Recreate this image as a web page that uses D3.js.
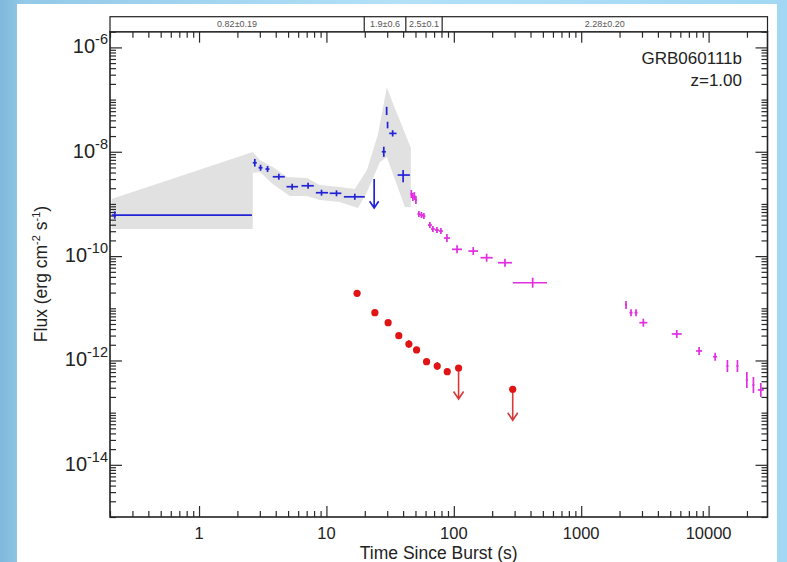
<!DOCTYPE html>
<html><head><meta charset="utf-8">
<script src="https://cdn.jsdelivr.net/npm/d3@7"></script>
<style>body{margin:0;background:#a6d9f2}svg{display:block}</style>
</head><body>
<svg id="c" width="787" height="562"></svg>
<script>
// ---------- data ----------
const xDomain = [0.2, 29000];
const yDomain = [1e-15, 2e-6];
const xMajor = [1, 10, 100, 1000, 10000];
const yMajor = [1e-6, 1e-8, 1e-10, 1e-12, 1e-14];
const yMajorExp = ["-6", "-8", "-10", "-12", "-14"];

// BAT (blue)
const batT   = [0.218, 2.74, 3.04, 3.45, 4.23, 5.38, 7.18, 9.15, 12.0, 16.7, 28.2, 29.7, 30.2, 33.1, 40.0];
const batTLo = [0.206, 2.64, 2.93, 3.32, 3.79, 4.86, 6.37, 8.26, 10.6, 13.7, 27.2, 29.7, 30.2, 31.1, 36.2];
const batTHi = [2.6, 2.84, 3.15, 3.57, 4.71, 5.99, 7.96, 10.3, 13.1, 20.0, 29.3, 29.7, 30.2, 35.5, 45.2];
const batF   = [6.1e-10, 6.15e-9, 4.94e-9, 4.66e-9, 3.32e-9, 2.14e-9, 2.23e-9, 1.64e-9, 1.60e-9, 1.37e-9, 1.0e-8, 6.07e-8, 3.25e-8, 2.25e-8, 3.58e-9];
const batFLo = [5.2e-10, 5.2e-9, 4.33e-9, 4.08e-9, 2.91e-9, 1.87e-9, 1.96e-9, 1.44e-9, 1.40e-9, 1.20e-9, 8.0e-9, 5.05e-8, 2.81e-8, 1.96e-8, 2.59e-9];
const batFHi = [7.2e-10, 7.3e-9, 5.64e-9, 5.32e-9, 3.79e-9, 2.44e-9, 2.55e-9, 1.87e-9, 1.82e-9, 1.57e-9, 1.25e-8, 7.28e-8, 3.76e-8, 2.59e-8, 4.46e-9];
const batUlT = [23.7];
const batUlF = [3.0e-9];

// BAT error band (grey)
const bandLeftT = [0.206, 2.64, 2.64, 0.206];
const bandLeftF = [1.24e-9, 9.87e-9, 3.30e-10, 3.30e-10];
const bandT = [2.64, 3.0, 3.79, 4.89, 7.02, 8.88, 12.7, 16.7, 20.8, 25.3, 29.8, 33.2, 46.0,
               46.0, 41.3, 29.8, 26.3, 20.8, 17.7, 12.7, 8.88, 7.02, 5.16, 3.79, 3.0, 2.64];
const bandF = [9.87e-9, 6.93e-9, 5.09e-9, 3.27e-9, 3.13e-9, 2.30e-9, 2.11e-9, 1.93e-9, 4.46e-9, 2.09e-8, 1.73e-7, 8.57e-8, 1.18e-8,
               8.72e-10, 8.72e-10, 7.91e-9, 6.35e-9, 1.69e-9, 8.34e-10, 1.09e-9, 1.19e-9, 1.42e-9, 1.42e-9, 2.41e-9, 4.08e-9, 3.91e-9];

// XRT (magenta)
const xrtT   = [46.4, 47.7, 49.0, 50.4, 53.2, 55.7, 58.2, 64.9, 68.5, 73.7, 79.2, 88.3, 106, 142, 181, 252, 416, 2248, 2461, 2695, 3074, 5626, 8424, 11250, 14050, 16840, 19960, 22480, 25700];
const xrtTLo = [45.6, 46.8, 48.1, 49.5, 51.8, 54.2, 56.6, 62.6, 66.1, 71.1, 76.4, 83.6, 96.8, 130, 162, 222, 291, 2208, 2394, 2622, 2860, 5138, 7977, 10850, 13800, 16540, 19600, 22080, 24340];
const xrtTHi = [47.2, 48.6, 49.9, 51.3, 54.7, 57.3, 59.8, 67.3, 71.0, 76.4, 82.1, 93.2, 116, 155, 202, 286, 539, 2289, 2530, 2770, 3304, 6160, 8896, 11670, 14310, 17150, 20330, 22890, 27140];
const xrtF   = [1.55e-9, 1.36e-9, 1.42e-9, 1.19e-9, 6.40e-10, 6.13e-10, 5.86e-10, 3.94e-10, 3.31e-10, 3.16e-10, 3.03e-10, 2.22e-10, 1.35e-10, 1.25e-10, 9.32e-11, 7.47e-11, 3.09e-11, 1.16e-11, 8.24e-12, 8.24e-12, 5.30e-12, 3.22e-12, 1.52e-12, 1.18e-12, 7.84e-13, 7.84e-13, 4.23e-13, 3.39e-13, 2.72e-13];
const xrtFLo = [1.30e-9, 1.14e-9, 1.19e-9, 1.00e-9, 5.60e-10, 5.37e-10, 5.13e-10, 3.45e-10, 2.90e-10, 2.77e-10, 2.65e-10, 1.86e-10, 1.13e-10, 1.05e-10, 7.81e-11, 6.26e-11, 2.48e-11, 0.97e-11, 7.06e-12, 7.06e-12, 4.44e-12, 2.70e-12, 1.27e-12, 0.99e-12, 6.01e-13, 6.01e-13, 2.97e-13, 2.38e-13, 2.0e-13];
const xrtFHi = [1.85e-9, 1.62e-9, 1.69e-9, 1.42e-9, 7.31e-10, 7.00e-10, 6.69e-10, 4.50e-10, 3.78e-10, 3.61e-10, 3.46e-10, 2.65e-10, 1.61e-10, 1.49e-10, 1.11e-10, 8.91e-11, 3.85e-11, 1.38e-11, 9.62e-12, 9.62e-12, 6.32e-12, 3.84e-12, 1.81e-12, 1.41e-12, 10.2e-13, 10.2e-13, 6.02e-13, 4.82e-13, 3.70e-13];

// Optical (red)
const optT   = [17.4, 24.0, 30.5, 37.0, 44.4, 51.0, 61.1, 74.1, 88.8];
const optF   = [1.94e-11, 8.24e-12, 5.30e-12, 2.99e-12, 2.07e-12, 1.59e-12, 9.48e-13, 7.84e-13, 6.10e-13];
const optFLo = [1.86e-11, 7.88e-12, 5.07e-12, 2.86e-12, 1.74e-12, 1.39e-12, 8.3e-13, 6.57e-13, 5.34e-13];
const optFHi = [2.03e-11, 8.61e-12, 5.54e-12, 3.12e-12, 2.47e-12, 1.81e-12, 1.08e-12, 9.35e-13, 6.97e-13];
const optUlT = [109, 290];
const optUlF = [7.18e-13, 2.81e-13];

// Photon index segments (top strip)
const segBounds = [19.8, 42, 81];
const segLabels = ["0.82\u00b10.19", "1.9\u00b10.6", "2.5\u00b10.1", "2.28\u00b10.20"];

const grbName = "GRB060111b";
const redshift = "z=1.00";

// ---------- drawing ----------
const FONT = "'Liberation Sans', Arial, Helvetica, sans-serif";
const svg = d3.select("#c");
const m = {left: 110, right: 767.5, top: 31.7, bottom: 517};

const defs = svg.append("defs");
const lg = defs.append("linearGradient").attr("id", "bg").attr("x1", 0).attr("x2", 1).attr("y1", 0).attr("y2", 0);
lg.append("stop").attr("offset", "0").attr("stop-color", "#7fb8dc");
lg.append("stop").attr("offset", "0.03").attr("stop-color", "#93c9e8");
lg.append("stop").attr("offset", "0.5").attr("stop-color", "#b2e1f7");
lg.append("stop").attr("offset", "1").attr("stop-color", "#a2d8f3");
svg.append("rect").attr("width", 787).attr("height", 562).attr("fill", "url(#bg)");
svg.append("rect").attr("x", 17).attr("y", 4).attr("width", 760).attr("height", 558).attr("fill", "#fff");

const x = d3.scaleLog().domain(xDomain).range([m.left, m.right]);
const y = d3.scaleLog().domain(yDomain).range([m.bottom, m.top]);

// grey band
const bandLine = d3.line().x(d => x(d[0])).y(d => y(d[1]));
svg.append("path").attr("d", bandLine(d3.zip(bandLeftT, bandLeftF)) + "Z").attr("fill", "#e1e1e1");
svg.append("path").attr("d", bandLine(d3.zip(bandT, bandF)) + "Z").attr("fill", "#e1e1e1");

// minor tick values
function minorTicks(lo, hi, skip) {
  const out = [];
  for (let e = Math.floor(Math.log10(lo)); e <= Math.ceil(Math.log10(hi)); e++) {
    for (let k = 1; k <= 9; k++) {
      const v = k * Math.pow(10, e);
      if (v >= lo * 0.9999 && v <= hi * 1.0001 && !skip.some(s => Math.abs(s - v) / v < 1e-6)) out.push(v);
    }
  }
  return out;
}
const xMinor = minorTicks(xDomain[0], xDomain[1], xMajor);
const yMinor = minorTicks(yDomain[0], yDomain[1], yMajor);

function styleAxis(g) {
  g.select(".domain").remove();
  g.selectAll(".tick line").attr("stroke", "#2a2a2a").attr("stroke-width", 1.2);
  g.selectAll(".tick text").remove();
}
const MAJ = 11, MIN = 6;
[[d3.axisBottom, m.bottom, "x"], [d3.axisTop, m.top, "x"]].forEach(([ax, pos]) => {
  svg.append("g").attr("transform", `translate(0,${pos})`).call(ax(x).tickValues(xMajor).tickSize(-MAJ)).call(styleAxis);
  svg.append("g").attr("transform", `translate(0,${pos})`).call(ax(x).tickValues(xMinor).tickSize(-MIN)).call(styleAxis);
});
[[d3.axisLeft, m.left], [d3.axisRight, m.right]].forEach(([ax, pos]) => {
  svg.append("g").attr("transform", `translate(${pos},0)`).call(ax(y).tickValues(yMajor).tickSize(-MAJ - 1)).call(styleAxis);
  svg.append("g").attr("transform", `translate(${pos},0)`).call(ax(y).tickValues(yMinor).tickSize(-MIN)).call(styleAxis);
});

// frame
svg.append("rect").attr("x", m.left).attr("y", m.top).attr("width", m.right - m.left).attr("height", m.bottom - m.top)
  .attr("fill", "none").attr("stroke", "#222").attr("stroke-width", 1.6);

// top strip with spectral indices
const stripTop = 16.7;
svg.append("rect").attr("x", m.left).attr("y", stripTop).attr("width", m.right - m.left).attr("height", m.top - stripTop)
  .attr("fill", "#fff").attr("stroke", "#222").attr("stroke-width", 1.2);
svg.selectAll(".segdiv").data(segBounds).enter().append("line")
  .attr("x1", d => x(d)).attr("x2", d => x(d)).attr("y1", stripTop).attr("y2", m.top)
  .attr("stroke", "#222").attr("stroke-width", 1.2);
const segEdges = [xDomain[0], ...segBounds, xDomain[1]];
svg.selectAll(".seglab").data(segLabels).enter().append("text")
  .attr("x", (d, i) => (x(segEdges[i]) + x(segEdges[i + 1])) / 2).attr("y", 27)
  .attr("text-anchor", "middle").attr("font-family", FONT).attr("font-size", 9).attr("fill", "#555").text(d => d);

// x tick labels
svg.selectAll(".xl").data(xMajor).enter().append("text")
  .attr("x", d => x(d)).attr("y", 539).attr("text-anchor", "middle")
  .attr("font-family", FONT).attr("font-size", 16.5).attr("fill", "#222").text(d => d3.format("d")(d));

// y tick labels with superscripts
yMajor.forEach((v, i) => {
  const t = svg.append("text").attr("x", 108).attr("y", y(v) + 6).attr("text-anchor", "end")
    .attr("font-family", FONT).attr("font-size", 20).attr("fill", "#222");
  t.append("tspan").text("10");
  t.append("tspan").attr("dy", -9).attr("font-size", 14.5).text(yMajorExp[i]);
});

// axis titles
svg.append("text").attr("x", (m.left + m.right) / 2).attr("y", 559).attr("text-anchor", "middle")
  .attr("font-family", FONT).attr("font-size", 17.5).attr("fill", "#222").text("Time Since Burst (s)");
const yt = svg.append("text").attr("transform", "translate(47,274) rotate(-90)").attr("text-anchor", "middle")
  .attr("font-family", FONT).attr("font-size", 17.5).attr("fill", "#222");
yt.append("tspan").text("Flux (erg cm");
yt.append("tspan").attr("dy", -7).attr("font-size", 11).text("-2");
yt.append("tspan").attr("dy", 7).text(" s");
yt.append("tspan").attr("dy", -7).attr("font-size", 11).text("-1");
yt.append("tspan").attr("dy", 7).text(")");

// annotations
svg.append("text").attr("x", 742).attr("y", 64).attr("text-anchor", "end")
  .attr("font-family", FONT).attr("font-size", 17).attr("fill", "#222").text(grbName);
svg.append("text").attr("x", 742).attr("y", 86).attr("text-anchor", "end")
  .attr("font-family", FONT).attr("font-size", 17).attr("fill", "#222").text(redshift);

// error bar helper
function errorBars(cls, T, TLo, THi, F, FLo, FHi, color, sw) {
  const data = T.map((t, i) => ({t, tlo: TLo ? TLo[i] : t, thi: THi ? THi[i] : t, f: F[i], flo: FLo[i], fhi: FHi[i]}));
  const g = svg.append("g").attr("stroke", color).attr("stroke-width", sw);
  g.selectAll("line.h" + cls).data(data).enter().append("line")
    .attr("x1", d => x(d.tlo)).attr("x2", d => x(d.thi)).attr("y1", d => y(d.f)).attr("y2", d => y(d.f));
  g.selectAll("line.v" + cls).data(data).enter().append("line")
    .attr("x1", d => x(d.t)).attr("x2", d => x(d.t)).attr("y1", d => y(d.flo)).attr("y2", d => y(d.fhi));
}
function upperLimits(T, F, color, len, head, sw) {
  const g = svg.append("g").attr("stroke", color).attr("stroke-width", sw).attr("fill", "none");
  const data = T.map((t, i) => ({t, f: F[i]}));
  g.selectAll("path").data(data).enter().append("path")
    .attr("d", d => {
      const px = x(d.t), py = y(d.f);
      return `M${px},${py}V${py + len}M${px - head},${py + len - head * 1.5}L${px},${py + len}L${px + head},${py + len - head * 1.5}`;
    });
}

errorBars("b", batT, batTLo, batTHi, batF, batFLo, batFHi, "#2323d6", 1.7);
upperLimits(batUlT, batUlF, "#2323d6", 29, 4.5, 1.7);
errorBars("m", xrtT, xrtTLo, xrtTHi, xrtF, xrtFLo, xrtFHi, "#e02ee0", 1.7);

errorBars("r", optT, null, null, optF, optFLo, optFHi, "#e01414", 1.4);
upperLimits(optUlT, optUlF, "#d83a3a", 31, 5, 1.6);
svg.append("g").selectAll("circle").data(optT.map((t, i) => [t, optF[i]]).concat(optUlT.map((t, i) => [t, optUlF[i]])))
  .enter().append("circle").attr("cx", d => x(d[0])).attr("cy", d => y(d[1])).attr("r", 3.6).attr("fill", "#e01414");
</script>
</body></html>
